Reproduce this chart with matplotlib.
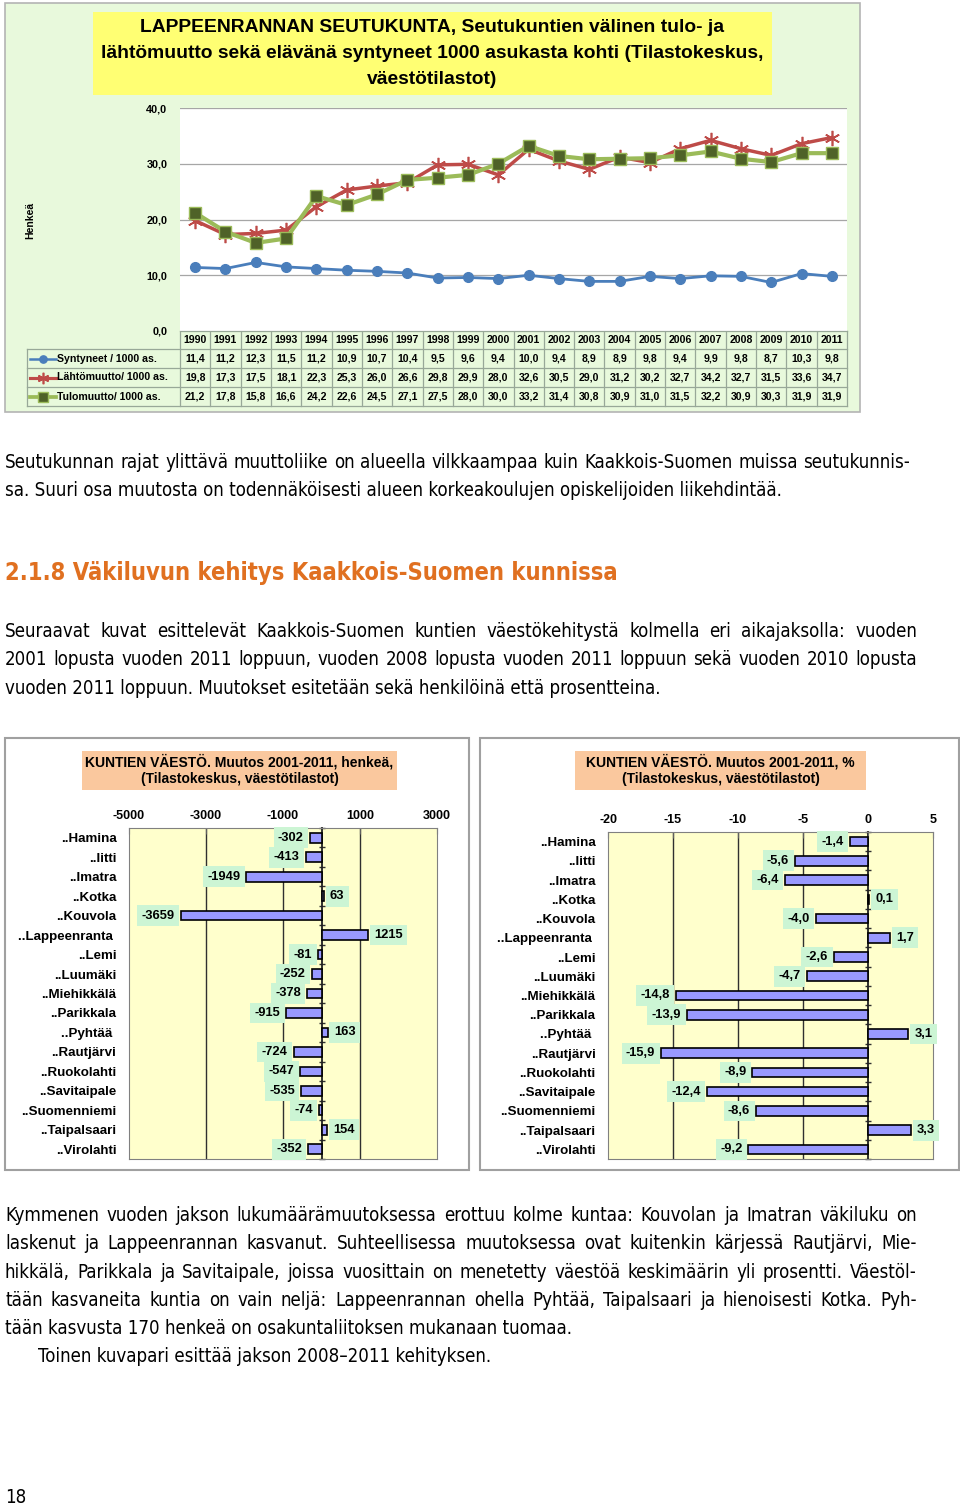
import matplotlib
matplotlib.use('Agg')
import matplotlib.pyplot as plt
from matplotlib import font_manager
from matplotlib.patches import Rectangle
import numpy as np

W, H = 960, 1505

# ---------------- data ----------------
years = [str(y) for y in range(1990, 2012)]
syntyneet = [11.4, 11.2, 12.3, 11.5, 11.2, 10.9, 10.7, 10.4, 9.5, 9.6, 9.4,
             10.0, 9.4, 8.9, 8.9, 9.8, 9.4, 9.9, 9.8, 8.7, 10.3, 9.8]
lahtomuutto = [19.8, 17.3, 17.5, 18.1, 22.3, 25.3, 26.0, 26.6, 29.8, 29.9, 28.0,
               32.6, 30.5, 29.0, 31.2, 30.2, 32.7, 34.2, 32.7, 31.5, 33.6, 34.7]
tulomuutto = [21.2, 17.8, 15.8, 16.6, 24.2, 22.6, 24.5, 27.1, 27.5, 28.0, 30.0,
              33.2, 31.4, 30.8, 30.9, 31.0, 31.5, 32.2, 30.9, 30.3, 31.9, 31.9]
series_names = ['Syntyneet / 1000 as.', 'Lähtömuutto/ 1000 as.', 'Tulomuutto/ 1000 as.']
yticks_top = [0, 10, 20, 30, 40]

kunnat = ['..Hamina', '..Iitti', '..Imatra', '..Kotka', '..Kouvola', '..Lappeenranta ',
          '..Lemi', '..Luumäki', '..Miehikkälä', '..Parikkala', '..Pyhtää ', '..Rautjärvi',
          '..Ruokolahti', '..Savitaipale', '..Suomenniemi', '..Taipalsaari', '..Virolahti']
muutos_henkea = [-302, -413, -1949, 63, -3659, 1215, -81, -252, -378, -915, 163,
                 -724, -547, -535, -74, 154, -352]
muutos_pct = [-1.4, -5.6, -6.4, 0.1, -4.0, 1.7, -2.6, -4.7, -14.8, -13.9, 3.1,
              -15.9, -8.9, -12.4, -8.6, 3.3, -9.2]
xticks_henkea = [-5000, -3000, -1000, 1000, 3000]
xticks_pct = [-20, -15, -10, -5, 0, 5]

# ---------------- fonts ----------------
avail = {f.name for f in font_manager.fontManager.ttflist}
if 'Liberation Sans Narrow' in avail:
    BODY = dict(family='Liberation Sans Narrow', fontsize=15)
    HEAD = dict(family='Liberation Sans Narrow', fontsize=20)
else:
    BODY = dict(family='DejaVu Sans', fontstretch='condensed', fontsize=13.4)
    HEAD = dict(family='DejaVu Sans', fontstretch='condensed', fontsize=17)
CH = 'Liberation Sans'

fig = plt.figure(figsize=(W / 100, H / 100), dpi=100)
fig.patch.set_facecolor('white')

bg = fig.add_axes([0, 0, 1, 1], zorder=0)
bg.set_xlim(0, W)
bg.set_ylim(H, 0)
bg.axis('off')


def px_axes(x0, y0, x1, y1, **kw):
    return fig.add_axes([x0 / W, 1 - y1 / H, (x1 - x0) / W, (y1 - y0) / H], zorder=2, **kw)


# ================= top chart =================
bg.add_patch(Rectangle((5, 3), 855, 409, fc='#e8f9dc', ec='#b4b4b4', lw=1.2))
bg.add_patch(Rectangle((93, 12), 679, 83, fc='#ffff73', ec='none'))
title_lines = ['LAPPEENRANNAN SEUTUKUNTA, Seutukuntien välinen tulo- ja',
               'lähtömuutto sekä elävänä syntyneet 1000 asukasta kohti (Tilastokeskus,',
               'väestötilastot)']
for k, ln in enumerate(title_lines):
    bg.text(432, 27 + k * 26.5, ln, ha='center', va='center', fontsize=13.9,
            fontweight='bold', family=CH)
bg.text(30, 220, 'Henkeä', rotation=90, ha='center', va='center', fontsize=7.5,
        fontweight='bold', family=CH)

PX0, PX1, PY0, PY1 = 180, 847, 108, 331
ax = px_axes(PX0, PY0, PX1, PY1)
ax.set_facecolor('white')
xs = np.arange(len(years))
styles = [
    dict(color='#4a7ebb', lw=2, marker='o', ms=7, mfc='#4a7ebb', mec='#4a7ebb'),
    dict(color='#be4b48', lw=2.5, marker=(6, 2, 0), ms=11, mec='#be4b48', mew=1.2),
    dict(color='#9bbb59', lw=3, marker='s', ms=9, mfc='#4f6228', mec='#9bbb59', mew=1),
]
for vals, st in zip([syntyneet, lahtomuutto, tulomuutto], styles):
    ax.plot(xs, vals, zorder=3, clip_on=False, **st)
ax.set_xlim(-0.5, len(years) - 0.5)
ax.set_ylim(0, 40)
ax.set_yticks(yticks_top)
ax.set_yticklabels([f'{v:.1f}'.replace('.', ',') for v in yticks_top],
                   fontsize=7.8, fontweight='bold', family=CH)
ax.set_xticks([])
ax.tick_params(axis='y', length=0, pad=9)
ax.yaxis.grid(True, color='#a6a6a6', lw=0.9)
ax.set_axisbelow(True)
for s in ax.spines.values():
    s.set_visible(False)

# data table
cw = (PX1 - PX0) / len(years)
rows_y = [331, 349, 368, 387, 406]
tcol = '#98a898'
bg.plot([PX0, PX1], [rows_y[0], rows_y[0]], color=tcol, lw=0.9)
for yy in rows_y[1:]:
    bg.plot([27, PX1], [yy, yy], color=tcol, lw=0.9)
for i in range(len(years) + 1):
    bg.plot([PX0 + i * cw] * 2, [rows_y[0], rows_y[-1]], color=tcol, lw=0.9)
bg.plot([27, 27], [rows_y[1], rows_y[-1]], color=tcol, lw=0.9)
for i, yr in enumerate(years):
    bg.text(PX0 + (i + 0.5) * cw, (rows_y[0] + rows_y[1]) / 2, yr, ha='center',
            va='center', fontsize=7.6, fontweight='bold', family=CH)
for r, (vals, name, st) in enumerate(zip([syntyneet, lahtomuutto, tulomuutto],
                                         series_names, styles)):
    yc = (rows_y[r + 1] + rows_y[r + 2]) / 2
    for i, v in enumerate(vals):
        bg.text(PX0 + (i + 0.5) * cw, yc, f'{v:.1f}'.replace('.', ','), ha='center',
                va='center', fontsize=7.6, fontweight='bold', family=CH)
    st2 = dict(st)
    st2['ms'] = st['ms'] * 0.75
    st2['lw'] = st['lw'] * 0.9
    bg.plot([30, 56], [yc, yc], color=st['color'], lw=st2['lw'])
    bg.plot([43], [yc], ls='none', **{k: v for k, v in st2.items() if k not in ('color', 'lw')},
            color=st['color'])
    bg.text(57, yc, name, ha='left', va='center', fontsize=7.6, fontweight='bold', family=CH)

# ================= body text =================
renderer = fig.canvas.get_renderer()


def text_width(s, **kw):
    t = bg.text(0, 0, s, **kw)
    w = t.get_window_extent(renderer).width
    t.remove()
    return w


def draw_line(s, x0, y, x1=None, **kw):
    if x1 is None:
        bg.text(x0, y, s, ha='left', va='baseline', **kw)
        return
    words = s.split(' ')
    ws = [text_width(w, **kw) for w in words]
    gap = (x1 - x0 - sum(ws)) / (len(words) - 1)
    x = x0
    for w, wd in zip(words, ws):
        bg.text(x, y, w, ha='left', va='baseline', **kw)
        x += wd + gap


p1 = [('Seutukunnan rajat ylittävä muuttoliike on alueella vilkkaampaa kuin Kaakkois-Suomen muissa seutukunnis-', 910),
      ('sa. Suuri osa muutosta on todennäköisesti alueen korkeakoulujen opiskelijoiden liikehdintää.', None)]
for k, (ln, x1) in enumerate(p1):
    draw_line(ln, 5, 468 + k * 28.3, x1, color='black', **BODY)

bg.text(5, 580, '2.1.8 Väkiluvun kehitys Kaakkois-Suomen kunnissa', ha='left',
        va='baseline', color='#e07020', fontweight='bold', **HEAD)

p2 = [('Seuraavat kuvat esittelevät Kaakkois-Suomen kuntien väestökehitystä kolmella eri aikajaksolla: vuoden', 917),
      ('2001 lopusta vuoden 2011 loppuun, vuoden 2008 lopusta vuoden 2011 loppuun sekä vuoden 2010 lopusta', 917),
      ('vuoden 2011 loppuun. Muutokset esitetään sekä henkilöinä että prosentteina.', None)]
for k, (ln, x1) in enumerate(p2):
    draw_line(ln, 5, 637 + k * 28.3, x1, color='black', **BODY)

p3 = [('Kymmenen vuoden jakson lukumäärämuutoksessa erottuu kolme kuntaa: Kouvolan ja Imatran väkiluku on', 917),
      ('laskenut ja Lappeenrannan kasvanut. Suhteellisessa muutoksessa ovat kuitenkin kärjessä Rautjärvi, Mie-', 917),
      ('hikkälä, Parikkala ja Savitaipale, joissa vuosittain on menetetty väestöä keskimäärin yli prosentti. Väestöl-', 917),
      ('tään kasvaneita kuntia on vain neljä: Lappeenrannan ohella Pyhtää, Taipalsaari ja hienoisesti Kotka. Pyh-', 917),
      ('tään kasvusta 170 henkeä on osakuntaliitoksen mukanaan tuomaa.', None)]
for k, (ln, x1) in enumerate(p3):
    draw_line(ln, 5, 1221 + k * 28.3, x1, color='black', **BODY)
draw_line('Toinen kuvapari esittää jakson 2008–2011 kehityksen.', 38, 1221 + 5 * 28.3,
          None, color='black', **BODY)
bg.text(5, 1503, '18', ha='left', va='baseline', color='black', **BODY)


# ================= bar charts =================
def bar_panel(panel, tbox, tlines, plot, values, xlim, xticks, grid, fmt):
    x0, y0, x1, y1 = panel
    bg.add_patch(Rectangle((x0, y0), x1 - x0, y1 - y0, fc='white', ec='#a0a0a0', lw=1.5))
    bx0, by0, bx1, by1 = tbox
    bg.add_patch(Rectangle((bx0, by0), bx1 - bx0, by1 - by0, fc='#fac89e', ec='none'))
    for k, ln in enumerate(tlines):
        bg.text((bx0 + bx1) / 2, by0 + 11 + k * 17.5, ln, ha='center', va='center',
                fontsize=10, fontweight='bold', family=CH)
    a = px_axes(*plot)
    a.set_facecolor('#ffffcc')
    n = len(values)
    y = np.arange(n)
    a.barh(y, values, height=0.5, color='#9999ff', edgecolor='black', lw=1.2, zorder=3)
    a.set_ylim(n - 0.5, -0.5)
    a.set_xlim(*xlim)
    for g in grid:
        a.axvline(g, color='#303030', lw=1, zorder=1)
    a.xaxis.tick_top()
    a.set_xticks(xticks)
    a.set_xticklabels([fmt(v, True) for v in xticks], fontsize=9, fontweight='bold', family=CH)
    a.tick_params(axis='x', direction='in', length=4, pad=4, color='#606060')
    a.set_yticks(y)
    a.set_yticklabels(kunnat, fontsize=9.6, fontweight='bold', family=CH)
    a.tick_params(axis='y', length=0, pad=9)
    for s in a.spines.values():
        s.set_color('#808080')
        s.set_linewidth(0.8)
    sec = a.secondary_yaxis((0 - xlim[0]) / (xlim[1] - xlim[0]))
    sec.set_yticks(np.arange(n + 1) - 0.5)
    sec.set_yticklabels([])
    sec.tick_params(direction='inout', length=5, width=1, color='#303030')
    for s in sec.spines.values():
        s.set_color('#202020')
        s.set_linewidth(1.3)
    for i, v in enumerate(values):
        off = -6 if v < 0 else 6
        a.annotate(fmt(v, False), xy=(v, i), xytext=(off, 0), textcoords='offset pixels',
                   ha='right' if v < 0 else 'left', va='center', fontsize=9.3,
                   fontweight='bold', family=CH, zorder=4,
                   bbox=dict(boxstyle='square,pad=0.34', fc='#ccf5d4', ec='none'))


bar_panel((5, 738, 469, 1170), (82, 751, 397, 790),
          ['KUNTIEN VÄESTÖ. Muutos 2001-2011, henkeä,', '(Tilastokeskus, väestötilastot)'],
          (129, 828, 437, 1159), muutos_henkea, (-5000, 3000), xticks_henkea,
          [-3000, -1000, 1000], lambda v, t: f'{v:d}')
bar_panel((480, 738, 959, 1170), (575, 751, 866, 790),
          ['KUNTIEN VÄESTÖ. Muutos 2001-2011, %', '(Tilastokeskus, väestötilastot)'],
          (608, 832, 933, 1159), muutos_pct, (-20, 5), xticks_pct,
          [-15, -10, -5], lambda v, t: f'{v:d}' if t else f'{v:.1f}'.replace('.', ','))

fig.savefig('out.png', dpi=100)
